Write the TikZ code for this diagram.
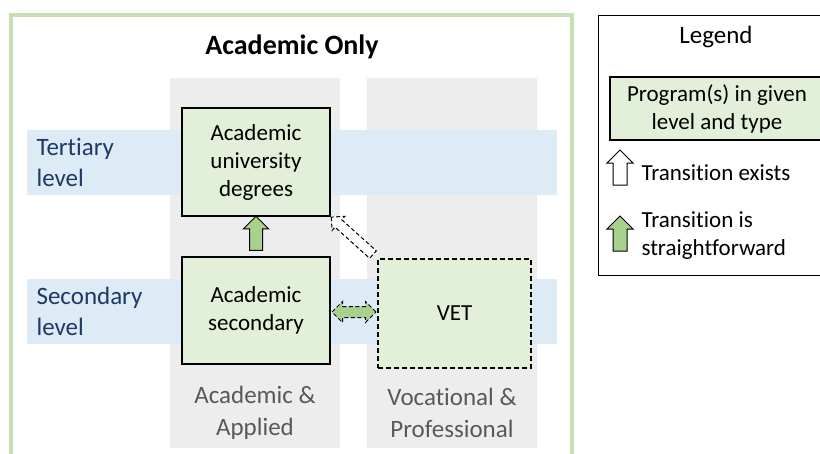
\documentclass[tikz,border=0pt]{standalone}
\usepackage{fontspec}
\setmainfont{Carlito}[Ligatures=NoCommon]
\definecolor{frame}{HTML}{C5E0B4}
\definecolor{boxgreen}{HTML}{E2F0D9}
\definecolor{arrgreen}{HTML}{A9D18E}
\definecolor{band}{HTML}{DDEBF7}
\definecolor{colgray}{HTML}{EDEDED}
\definecolor{navy}{HTML}{1F3864}
\definecolor{txtgray}{HTML}{595959}
\usetikzlibrary{shapes.arrows}
\usetikzlibrary{calc}

\begin{document}
\begin{tikzpicture}[x=1pt,y=-1pt,
	prog/.style={draw=black, line width=1.2pt, fill=boxgreen, align=center, inner sep=0pt, font=\fontsize{23}{28}\selectfont},
	lvl/.style={anchor=west, align=left, text=navy, font=\fontsize{25}{31}\selectfont},
	coltext/.style={align=center, text=txtgray, font=\fontsize{25}{32}\selectfont},
	blockarr/.style={single arrow, draw=black, line width=1pt, inner xsep=0pt, inner ysep=6pt, single arrow head extend=6pt}]
	\clip (0,0) rectangle (820,453);
	%columns and bands
	\foreach \x in {170,367}
	\fill[colgray] (\x,78) rectangle ++(170,370);
	\foreach \y in {130,279}
	\fill[band] (27,\y) rectangle ++(530,65);
	\draw[frame, line width=4pt] (11,15) rectangle (572,480);
	\node[font=\bfseries\fontsize{28}{34}\selectfont] (title) at (292,47) {Academic Only};
	\node[lvl] (tert) at (33,162) {Tertiary\\level};
	\node[lvl] (second) at (33,311) {Secondary\\level};
	\node[coltext] (acapp) at (255,413) {Academic \&\\Applied};
	\node[coltext] (vocpro) at (452,413) {Vocational \&\\Professional};
	%programs
	\node[prog, minimum width=148pt, minimum height=108pt] (acuni) at (256,162) {Academic\\university\\degrees};
	\node[prog, minimum width=148pt, minimum height=107pt] (acsec) at (256,310.5) {Academic\\secondary};
	\node[prog, dashed, dash pattern=on 5pt off 3pt, minimum width=153pt, minimum height=109pt] (vet) at (454.5,313.5) {VET};
	%transitions
	\node[blockarr, fill=arrgreen, rotate=90, minimum height=34pt] (up) at ($(acsec.north)!0.5!(acuni.south)$) {};
	\node[double arrow, draw=black, line width=1pt, dash pattern=on 4pt off 2.5pt, fill=arrgreen, inner xsep=0pt, inner ysep=5pt, double arrow head extend=5pt, minimum height=44pt] (side) at ($(acsec.east)!0.5!(vet.west)$) {};
	\node[blockarr, fill=white, dash pattern=on 4pt off 2.5pt, inner ysep=4.5pt, single arrow head extend=4.5pt, minimum height=56pt, rotate=138] (diag) at ($(acuni.south east)!0.5!(vet.north west)$) {};
	%legend
	\draw[line width=1pt] (598,15) rectangle (830,275);
	\node[font=\fontsize{25}{30}\selectfont] (leg) at (716,37) {Legend};
	\node[prog, minimum width=214pt, minimum height=63pt] (legprog) at (717,108.5) {Program(s) in given\\level and type};
	\node[blockarr, fill=white, rotate=90, minimum height=35pt, inner ysep=6.5pt] (legex) at (620,171) {};
	\node[blockarr, fill=arrgreen, rotate=90, minimum height=35pt, inner ysep=6.5pt] (legst) at (620,237) {};
	\node[anchor=west, font=\fontsize{23}{28}\selectfont] (exists) at (638,173) {Transition exists};
	\node[anchor=west, align=left, font=\fontsize{23}{28}\selectfont] (straight) at (638,236) {Transition is\\straightforward};
\end{tikzpicture}
\end{document}
